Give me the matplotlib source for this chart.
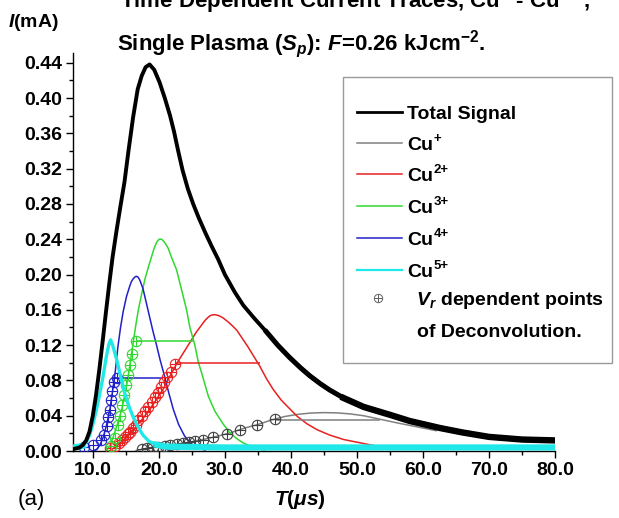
import matplotlib
matplotlib.use("Agg")
import matplotlib.pyplot as plt
from matplotlib.ticker import MultipleLocator, FormatStrFormatter
from matplotlib.patches import Rectangle
from matplotlib.lines import Line2D

plt.rcParams['font.family'] = ['Liberation Sans', 'DejaVu Sans']
plt.rcParams['mathtext.fontset'] = 'custom'
plt.rcParams['mathtext.rm'] = 'Liberation Sans:bold'
plt.rcParams['mathtext.it'] = 'Liberation Sans:italic:bold'
plt.rcParams['mathtext.bf'] = 'Liberation Sans:bold'

# ---------------- data ----------------
t_total = [7.0, 8.0, 8.5, 9.0, 9.5, 10.0, 10.5, 11.0, 11.5, 12.0, 12.5, 13.0, 13.6, 14.2,
           14.8, 15.4, 16.1, 16.8, 17.4, 18.0, 18.6, 19.3, 20.1, 20.9, 21.7, 22.3, 22.9,
           23.6, 24.4, 25.2, 26.0, 27.0, 28.0, 29.0, 30.0, 31.5, 32.8, 34.5, 36.3, 38.0,
           39.8, 41.5, 42.9, 44.5, 45.9, 48.0, 51.0, 55.0, 58.0, 62.6, 66.0, 70.0, 75.0,
           80.0]
i_total = [0.002, 0.004, 0.007, 0.012, 0.022, 0.040, 0.064, 0.093, 0.125, 0.158, 0.190,
           0.220, 0.250, 0.278, 0.305, 0.340, 0.378, 0.410, 0.425, 0.435, 0.438, 0.432,
           0.418, 0.400, 0.380, 0.362, 0.341, 0.318, 0.297, 0.280, 0.265, 0.248, 0.232,
           0.217, 0.200, 0.180, 0.165, 0.150, 0.135, 0.120, 0.106, 0.094, 0.085, 0.076,
           0.069, 0.060, 0.050, 0.041, 0.034, 0.026, 0.021, 0.016, 0.013, 0.012]

t_cu1 = [16.5, 17.4, 19.0, 21.0, 23.0, 25.0, 27.0, 29.0, 31.0, 33.0, 35.0, 37.0, 39.0,
         41.0, 43.0, 45.0, 47.0, 49.0, 51.0, 53.5, 56.0, 58.0, 60.0, 62.0]
i_cu1 = [0.000, 0.002, 0.004, 0.006, 0.008, 0.0105, 0.0135, 0.017, 0.021, 0.026, 0.030,
         0.035, 0.039, 0.0415, 0.043, 0.0435, 0.0432, 0.042, 0.040, 0.036, 0.032, 0.029,
         0.026, 0.023]

t_cu2 = [12.5, 13.5, 14.6, 15.6, 16.6, 17.6, 18.6, 19.6, 20.65, 21.7, 22.7, 23.7, 24.7,
         25.7, 26.7, 27.0, 27.4, 27.7, 28.0, 28.4, 28.8, 29.2, 29.7, 30.7, 31.8, 32.6,
         33.5, 34.4, 35.3, 36.3, 37.3, 38.5, 39.8, 41.0, 42.4, 44.0, 45.9, 48.0, 50.0,
         52.0, 54.0, 56.0]
i_cu2 = [0.000, 0.005, 0.012, 0.020, 0.028, 0.037, 0.047, 0.058, 0.070, 0.085, 0.099,
         0.111, 0.123, 0.135, 0.145, 0.148, 0.151, 0.153, 0.154, 0.1545, 0.154, 0.153,
         0.151, 0.145, 0.137, 0.128, 0.118, 0.107, 0.096, 0.082, 0.070, 0.058, 0.048,
         0.039, 0.031, 0.024, 0.018, 0.013, 0.010, 0.007, 0.004, 0.002]

t_cu3 = [12.0, 12.6, 13.1, 13.7, 14.35, 14.9, 15.35, 15.7, 16.1, 16.5, 16.9, 17.4, 17.9,
         18.6, 19.3, 19.7, 20.05, 20.4, 20.7, 21.0, 21.4, 22.0, 22.7, 23.2, 23.7, 24.2,
         24.7, 25.45, 26.0, 26.5, 27.5, 28.5, 29.7, 30.7, 31.8, 32.8, 33.8, 34.8, 36.0]
i_cu3 = [0.000, 0.006, 0.016, 0.030, 0.046, 0.066, 0.084, 0.102, 0.122, 0.142, 0.160,
         0.178, 0.195, 0.213, 0.230, 0.237, 0.240, 0.240, 0.238, 0.235, 0.230, 0.218,
         0.205, 0.190, 0.175, 0.160, 0.140, 0.120, 0.100, 0.088, 0.062, 0.045, 0.031,
         0.021, 0.014, 0.009, 0.006, 0.003, 0.001]

t_cu4 = [10.0, 10.6, 11.1, 11.6, 12.1, 12.6, 13.0, 13.4, 13.8, 14.2, 14.6, 15.1, 15.6,
         15.85, 16.1, 16.35, 16.6, 16.85, 17.1, 17.6, 18.1, 18.6, 19.1, 19.65, 20.2, 20.9,
         21.5, 22.2, 23.0, 23.9, 24.8, 25.7, 27.0]
i_cu4 = [0.000, 0.002, 0.007, 0.016, 0.030, 0.048, 0.068, 0.090, 0.118, 0.140, 0.158,
         0.175, 0.187, 0.192, 0.195, 0.197, 0.198, 0.197, 0.194, 0.184, 0.168, 0.152,
         0.136, 0.120, 0.103, 0.084, 0.066, 0.047, 0.030, 0.017, 0.009, 0.004, 0.001]

t_cu5 = [7.0, 8.0, 8.5, 9.0, 9.5, 10.0, 10.5, 11.0, 11.5, 12.0, 12.4, 12.7, 13.0, 13.6,
         14.2, 14.85, 15.5, 16.1, 16.8, 17.6, 18.5, 19.7, 21.0, 30.0, 40.0, 50.0, 60.0,
         70.0, 80.0]
i_cu5 = [0.004, 0.005, 0.006, 0.010, 0.018, 0.030, 0.045, 0.063, 0.082, 0.105, 0.120,
         0.126, 0.120, 0.104, 0.085, 0.065, 0.050, 0.039, 0.028, 0.018, 0.011, 0.007,
         0.005, 0.004, 0.004, 0.004, 0.004, 0.004, 0.004]

# V_r dependent points of deconvolution
pts_cu1_t = [17.4, 18.2, 19.1, 19.9, 20.9, 21.7, 22.7, 23.7, 24.5, 25.5, 26.7, 28.2,
             30.3, 32.3, 34.8, 37.6]
pts_cu1_i = [0.002, 0.003, 0.004, 0.005, 0.006, 0.007, 0.008, 0.009, 0.010, 0.011,
             0.013, 0.016, 0.019, 0.024, 0.030, 0.036]
pts_cu2_t = [12.6, 13.3, 13.9, 14.4, 14.9, 15.3, 15.7, 16.1, 16.5, 16.9, 17.4, 17.9,
             18.4, 18.9, 19.4, 19.8, 20.3, 20.8, 21.3, 21.8, 22.4]
pts_cu2_i = [0.003, 0.006, 0.009, 0.012, 0.016, 0.019, 0.022, 0.026, 0.030, 0.035,
             0.040, 0.045, 0.050, 0.056, 0.061, 0.066, 0.072, 0.078, 0.084, 0.090, 0.099]
pts_cu3_t = [12.7, 13.3, 13.8, 14.1, 14.4, 14.7, 15.0, 15.3, 15.6, 15.9, 16.6]
pts_cu3_i = [0.006, 0.015, 0.030, 0.040, 0.052, 0.063, 0.075, 0.086, 0.098, 0.110, 0.125]
pts_cu4_t = [8.6, 10.05, 11.3, 11.7, 12.1, 12.35, 12.55, 12.75, 12.95, 13.2, 13.6]
pts_cu4_i = [0.004, 0.007, 0.013, 0.018, 0.028, 0.038, 0.047, 0.058, 0.068, 0.078, 0.083]

# horizontal (width) segments: start, end, level
hl_cu1 = (37.6, 53.5, 0.035)
hl_cu2 = (22.4, 35.3, 0.100)
hl_cu3 = (16.6, 25.2, 0.125)
hl_cu4 = (13.6, 20.7, 0.083)

x_ticks = [10, 20, 30, 40, 50, 60, 70, 80]
y_ticks = [0.00, 0.04, 0.08, 0.12, 0.16, 0.20, 0.24, 0.28, 0.32, 0.36, 0.40, 0.44]

legend_base = ['Total Signal', 'Cu', 'Cu', 'Cu', 'Cu', 'Cu']
legend_sup = ['', '+', '2+', '3+', '4+', '5+']

C_BLACK = '#000000'
C_GRAY = '#808080'
C_RED = '#e82020'
C_GREEN = '#30d830'
C_BLUE = '#2020c8'
C_CYAN = '#20e8e8'

W, H = 619, 518
fig = plt.figure(figsize=(W / 100, H / 100), dpi=100)
ax = fig.add_axes([73 / W, 1 - 451 / H, (555 - 73) / W, (451 - 53) / H])

lw_c = 1.1
ax.plot(t_cu1, i_cu1, color=C_GRAY, lw=lw_c, zorder=2)
ax.plot(t_cu2, i_cu2, color=C_RED, lw=lw_c, zorder=2)
ax.plot(t_cu3, i_cu3, color=C_GREEN, lw=lw_c, zorder=2)
ax.plot(t_cu4, i_cu4, color=C_BLUE, lw=lw_c, zorder=2)

for (a, b, y), c in [(hl_cu1, C_GRAY), (hl_cu2, C_RED), (hl_cu3, C_GREEN), (hl_cu4, C_BLUE)]:
    ax.hlines(y, a, b, color=c, lw=lw_c, zorder=2)

for tt, ii, c in [(pts_cu1_t, pts_cu1_i, '#404040'), (pts_cu2_t, pts_cu2_i, C_RED),
                  (pts_cu3_t, pts_cu3_i, C_GREEN), (pts_cu4_t, pts_cu4_i, C_BLUE)]:
    ax.plot(tt, ii, ls='none', marker='o', ms=7.5, mfc='none', mec=c, mew=0.8, zorder=3)
    ax.plot(tt, ii, ls='none', marker='+', ms=7.5, mec=c, mew=0.8, zorder=3)

# Cu5+ trace (noisy data drawn as a thick line; baseline band thicker)
ax.plot(t_cu5, i_cu5, color=C_CYAN, lw=2.4, zorder=4)
n5 = next(k for k, v in enumerate(t_cu5) if v >= 19.7)
ax.plot(t_cu5[n5:], i_cu5[n5:], color=C_CYAN, lw=4.5, zorder=4)
ax.plot(t_cu5[:3], i_cu5[:3], color=C_CYAN, lw=4.5, zorder=4)

# total signal (noisy trace: thicker in the tail)
ax.plot(t_total, i_total, color=C_BLACK, lw=2.8, zorder=5)
for tmin, lw in [(36.0, 3.6), (48.0, 4.6)]:
    k = next(j for j, v in enumerate(t_total) if v >= tmin)
    ax.plot(t_total[k:], i_total[k:], color=C_BLACK, lw=lw, zorder=5)

ax.set_xlim(7, 80)
ax.set_ylim(0, 0.451)
ax.spines['top'].set_visible(False)
ax.spines['right'].set_visible(False)
for s in ('left', 'bottom'):
    ax.spines[s].set_linewidth(1.0)
ax.set_xticks(x_ticks)
ax.set_yticks(y_ticks)
ax.xaxis.set_major_formatter(FormatStrFormatter('%.1f'))
ax.yaxis.set_major_formatter(FormatStrFormatter('%.2f'))
ax.xaxis.set_minor_locator(MultipleLocator(5))
ax.yaxis.set_minor_locator(MultipleLocator(0.02))
ax.tick_params(which='major', direction='out', length=5, width=1, pad=3,
               labelsize=14)
ax.tick_params(which='minor', direction='out', length=3, width=1)
for lab in ax.get_xticklabels() + ax.get_yticklabels():
    lab.set_fontweight('bold')

def fx(x):
    return x / W

def fy(y):
    return 1 - y / H

renderer = fig.canvas.get_renderer()

def text_sup(x, y, base, sup, size=14, supsize=9.5, rise=8):
    t = fig.text(fx(x), fy(y), base, fontsize=size, fontweight='bold', ha='left',
                 va='baseline')
    if sup:
        bb = t.get_window_extent(renderer=renderer)
        fig.text((bb.x1 + 0.5) / W, fy(y - rise), sup, fontsize=supsize,
                 fontweight='bold', ha='left', va='baseline')

# titles / labels
fig.text(fx(120), fy(8), 'Time Dependent Current Traces, Cu$^{+}$ - Cu$^{5+}$,',
         fontsize=16, fontweight='bold', ha='left', va='baseline')
fig.text(fx(117), fy(50), 'Single Plasma ($S_p$): $F$=0.26 kJcm$^{-2}$.',
         fontsize=16, fontweight='bold', ha='left', va='baseline')
fig.text(fx(8), fy(27), '$I$(mA)', fontsize=14, fontweight='bold', ha='left', va='baseline')
fig.text(fx(300), fy(505), r'$T(\mu s)$', fontsize=15, ha='center', va='baseline')
fig.text(fx(18), fy(505), '(a)', fontsize=16, ha='left', va='baseline')

# legend box
fig.patches.append(Rectangle((fx(343), fy(363)), (612 - 343) / W, (363 - 77) / H,
                             transform=fig.transFigure, fill=False, ec='#9a9a9a', lw=1.0))
rows = [111.7, 143.3, 174.3, 206.0, 238.3, 270.0]
cols = [C_BLACK, C_GRAY, C_RED, C_GREEN, C_BLUE, C_CYAN]
lws = [2.0, 1.1, 1.1, 1.1, 1.1, 1.6]
for y, c, base, sup, lw in zip(rows, cols, legend_base, legend_sup, lws):
    fig.lines.append(Line2D([fx(357), fx(402)], [fy(y), fy(y)], transform=fig.transFigure,
                            color=c, lw=lw))
    text_sup(407, y + 7, base, sup)
fig.lines.append(Line2D([fx(378)], [fy(298)], transform=fig.transFigure, ls='none',
                        marker='o', ms=6, mfc='none', mec='#606060', mew=0.7))
fig.lines.append(Line2D([fx(378)], [fy(298)], transform=fig.transFigure, ls='none',
                        marker='+', ms=6, mec='#606060', mew=0.7))
fig.text(fx(416), fy(305), '$V_r$ dependent points', fontsize=14, fontweight='bold',
         ha='left', va='baseline')
fig.text(fx(417), fy(337), 'of Deconvolution.', fontsize=14, fontweight='bold',
         ha='left', va='baseline')

fig.savefig('out.png', dpi=100)
